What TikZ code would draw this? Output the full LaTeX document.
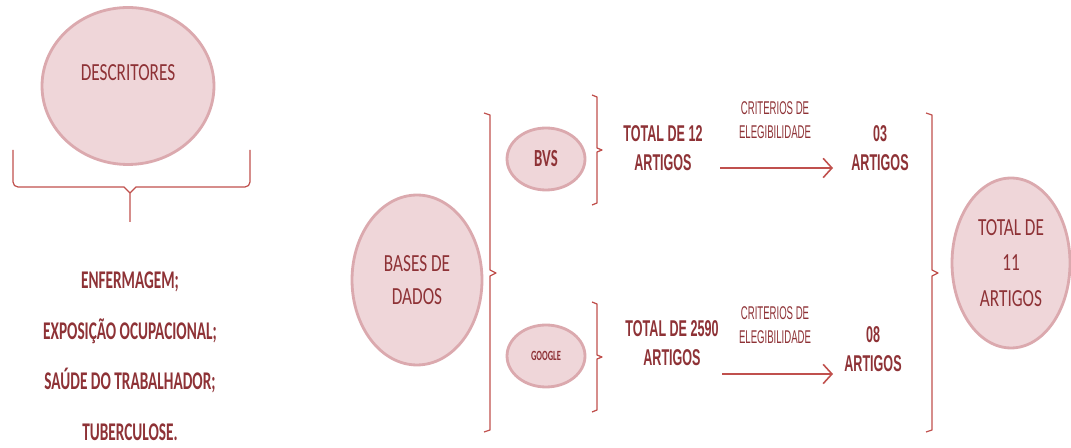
\documentclass[tikz,border=0pt]{standalone}
\usepackage{fontspec}
\setmainfont{Carlito}
\newfontfamily\estreita[FakeStretch=0.7]{Carlito}
\newfontfamily\termofont[FakeStretch=0.6]{Carlito}
\newfontfamily\fina[FakeStretch=0.55]{Liberation Sans}
\newfontfamily\finissima[FakeStretch=0.52]{Liberation Sans}
\usetikzlibrary{shapes.geometric,arrows.meta}
\definecolor{bolha}{HTML}{EFD6D9}
\definecolor{borda}{HTML}{DBA9AE}
\definecolor{texto}{HTML}{8E3236}
\definecolor{linha}{HTML}{C0504D}
\tikzset{
  bolha/.style={ellipse, fill=bolha, draw=borda, line width=1.6pt, inner sep=0pt,
    text=texto, align=center, font=\estreita\fontsize{14}{19}\selectfont},
  chave/.style={draw=linha, line width=0.7pt, line join=round},
  termo/.style={text=texto, font=\termofont\bfseries\fontsize{14.5}{16}\selectfont},
  contagem/.style={text=texto, align=center, font=\fina\bfseries\fontsize{13}{16.5}\selectfont},
  criterio/.style={text=texto, align=center, font=\finissima\fontsize{10.5}{14}\selectfont},
  seta/.style={draw=linha, line width=0.9pt, -{Straight Barb[length=5pt,width=11pt]}}
}
\begin{document}
\begin{tikzpicture}[x=0.02cm, y=-0.02cm]
\useasboundingbox (0,0) rectangle (1071,448);
% descritores
\node[bolha, minimum width=3.44cm, minimum height=3.14cm,
  label={[yshift=0.26cm, text=texto, font=\estreita\fontsize{14}{16}\selectfont]center:DESCRITORES}] (desc) at (128,86) {};
\draw[chave] (13,150) -- (13,182) to[out=-90,in=180] (18,187) -- (124,187)
  -- (130,193) -- (130,222);
\draw[chave] (130,193) -- (136,187) -- (245,187) to[out=0,in=-90] (250,182) -- (250,150);
\node[termo] (enf) at (130,282) {ENFERMAGEM;};
\node[termo] (exp) at (130,331) {EXPOSIÇÃO OCUPACIONAL;};
\node[termo] (sau) at (130,381) {SAÚDE DO TRABALHADOR;};
\node[termo] (tub) at (130,432) {TUBERCULOSE.};
% bases de dados
\node[bolha, minimum width=2.6cm, minimum height=3.4cm] (bases) at (417,280) {BASES DE\\DADOS};
\draw[chave] (484,113) -- (490,115) -- (490,270) -- (496,273) -- (490,276) -- (490,430) -- (484,432);
\node[bolha, minimum width=1.56cm, minimum height=1.24cm,
  font=\termofont\bfseries\fontsize{14}{16}\selectfont] (bvs) at (546,159) {BVS};
\node[bolha, minimum width=1.56cm, minimum height=1.24cm,
  font=\termofont\bfseries\fontsize{8}{9}\selectfont] (google) at (546,356) {GOOGLE};
\draw[chave] (592,95) -- (597,97) -- (597,148) -- (602,150) -- (597,152) -- (597,203) -- (592,205);
\draw[chave] (592,302) -- (597,304) -- (597,355) -- (602,357) -- (597,359) -- (597,410) -- (592,412);
% bvs
\node[contagem] (t12) at (663,148) {TOTAL DE 12\\ARTIGOS};
\node[criterio] (crit1) at (775,120) {CRITERIOS DE\\ELEGIBILIDADE};
\node[contagem] (a03) at (880,148) {03\\ARTIGOS};
\coordinate (s1) at (720,168);
\coordinate (e1) at (833,168);
\draw[seta] (s1) -- (e1);
% google
\node[contagem] (t2590) at (672,343) {TOTAL DE 2590\\ARTIGOS};
\node[criterio] (crit2) at (775,325) {CRITERIOS DE\\ELEGIBILIDADE};
\node[contagem] (a08) at (873,349) {08\\ARTIGOS};
\coordinate (s2) at (722,374);
\coordinate (e2) at (833,374);
\draw[seta] (s2) -- (e2);
% total
\draw[chave] (926,113) -- (932,115) -- (932,270) -- (938,273) -- (932,276) -- (932,430) -- (926,432);
\node[bolha, minimum width=2.36cm, minimum height=3.4cm,
  font=\estreita\fontsize{14}{20}\selectfont] (total) at (1011,263) {TOTAL DE\\11\\ARTIGOS};
\end{tikzpicture}
\end{document}
